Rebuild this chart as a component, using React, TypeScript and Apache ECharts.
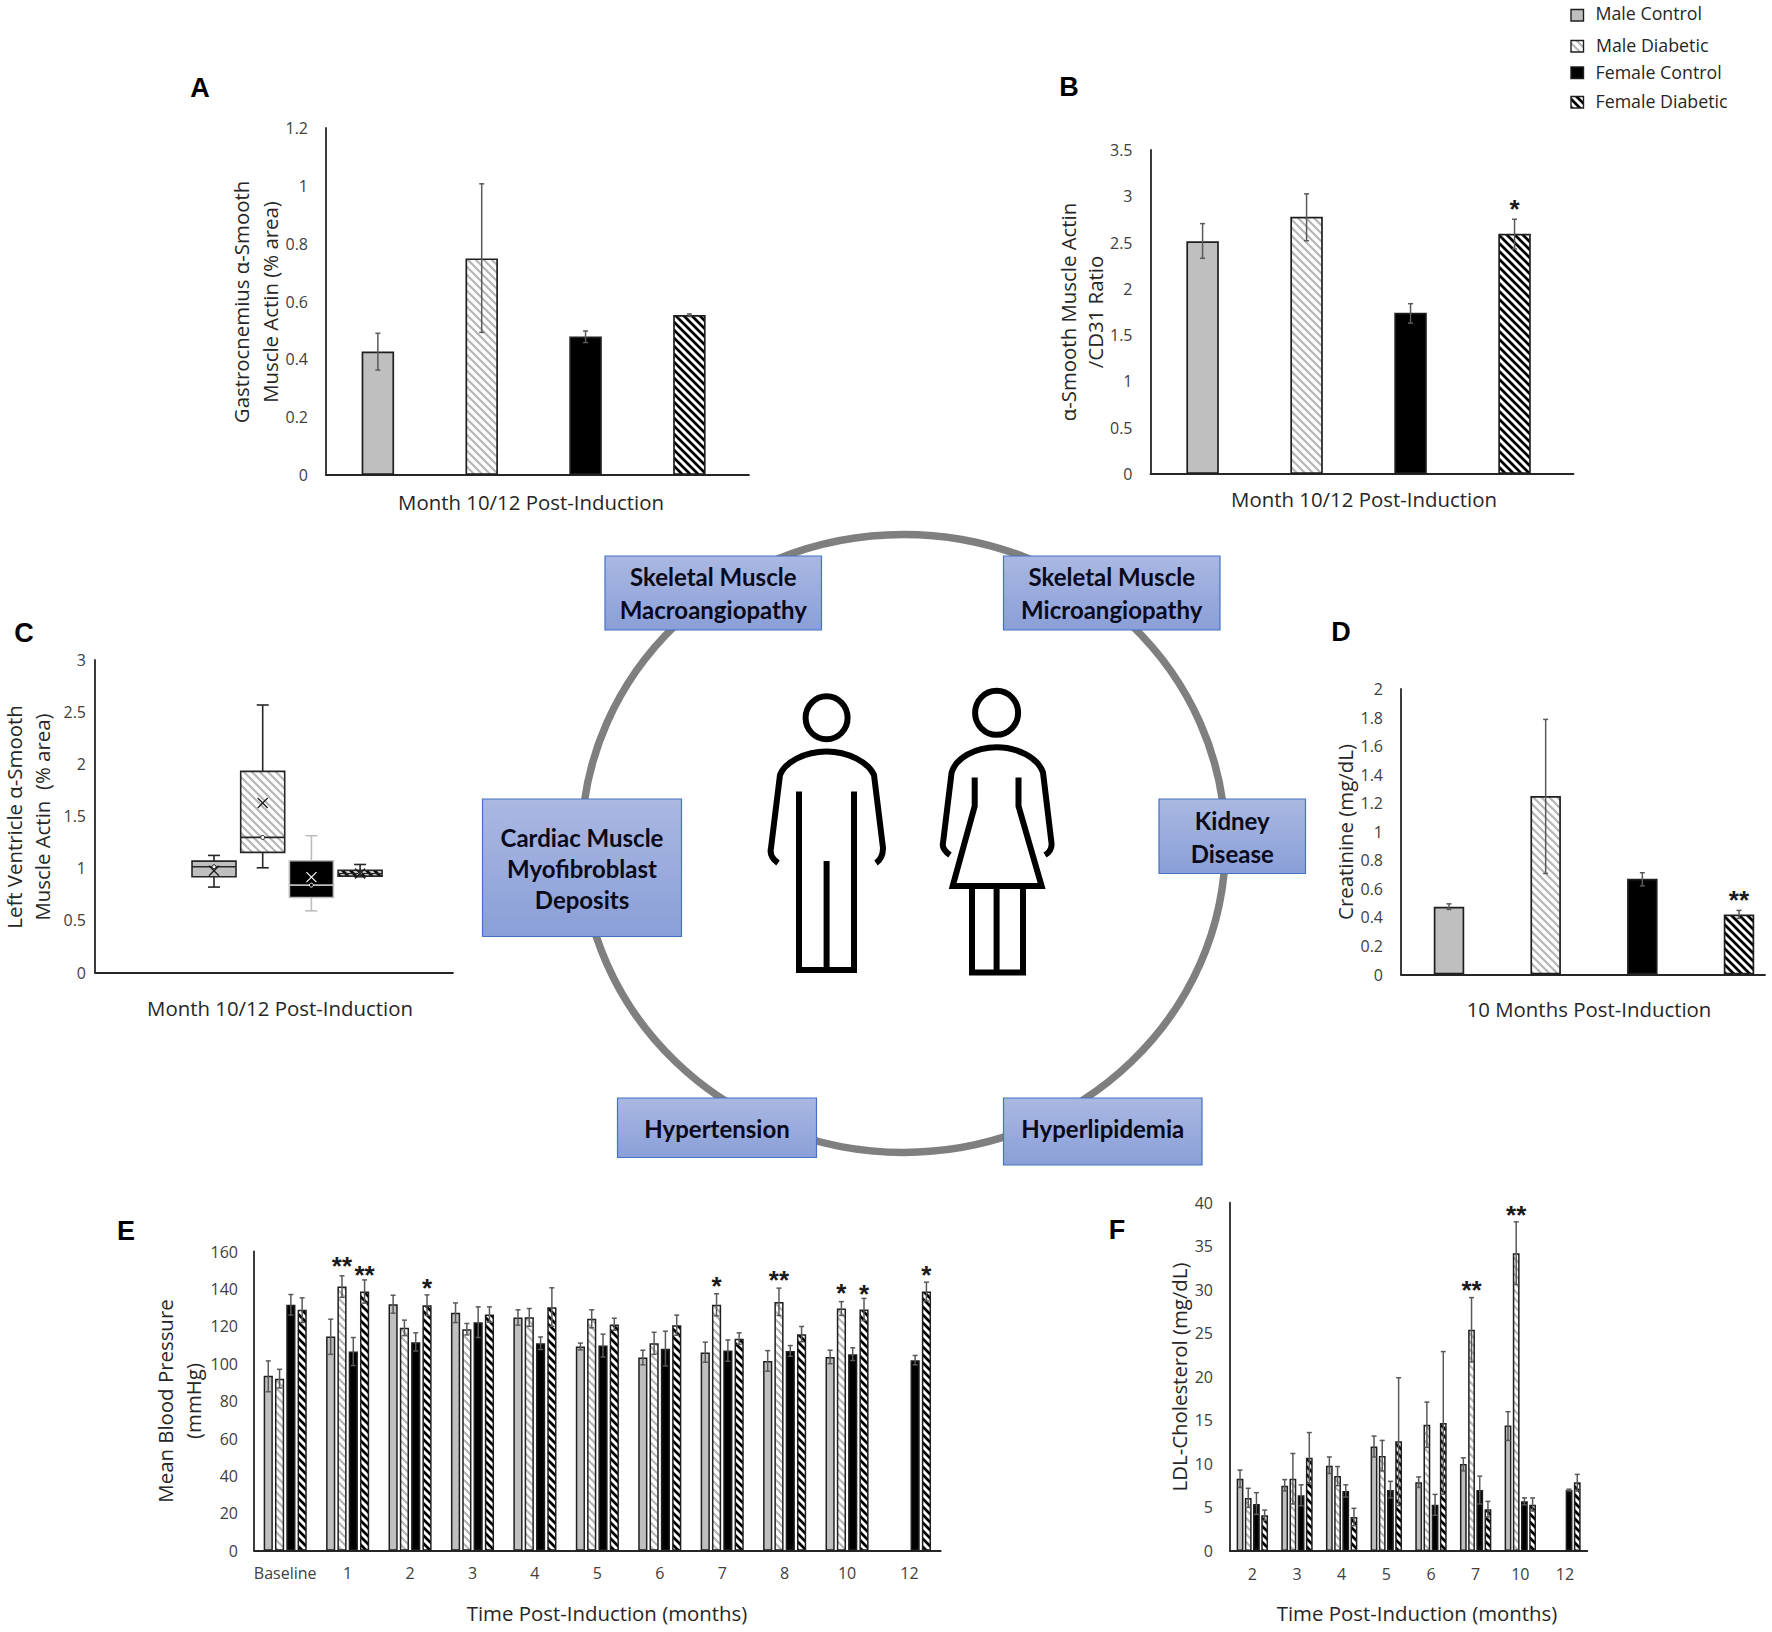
import React, { useEffect, useRef } from "react";
import * as echarts from "echarts";

const groups = ["Male Control", "Male Diabetic", "Female Control", "Female Diabetic"];

// Panel A
const aMeans = [0.427, 0.749, 0.479, 0.553];
const aLow = [0.363, 0.493, 0.458, 0.548];
const aHigh = [0.49, 1.007, 0.498, 0.557];
// Panel B
const bMeans = [2.515, 2.778, 1.743, 2.596];
const bLow = [2.33, 2.52, 1.63, 2.43];
const bHigh = [2.705, 3.026, 1.84, 2.752];
// Panel C: min, q1, median, q3, max, mean
const cMin = [0.82, 1.005, 0.592, 0.919];
const cQ1 = [0.919, 1.153, 0.72, 0.925];
const cMedian = [1.015, 1.297, 0.839, 0.95];
const cQ3 = [1.069, 1.931, 1.073, 0.98];
const cMax = [1.124, 2.568, 1.313, 1.037];
const cMean = [0.977, 1.627, 0.916, 0.95];
// Panel D
const dMeans = [0.474, 1.25, 0.67, 0.42];
const dLow = [0.456, 0.708, 0.621, 0.393];
const dHigh = [0.495, 1.787, 0.713, 0.449];
// Panel E
const eMonths = ["Baseline", "1", "2", "3", "4", "5", "6", "7", "8", "10", "12"];
const eMC = [93.5, 114.5, 131.8, 127.2, 124.7, 109.2, 103.3, 106, 101.5, 103.6, null];
const eMCLow = [85, 105, 127, 122, 120.6, 107.4, 99.4, 100.8, 96, 100, null];
const eMCHigh = [101.5, 123.8, 136.6, 132.5, 128.8, 111, 107.2, 111.5, 107, 107.2, null];
const eMD = [92, 141.3, 119.2, 118.4, 124.9, 124, 111, 131.5, 133, 129.5, null];
const eMDLow = [87, 135.5, 115, 115.4, 120, 119.2, 105, 125.6, 125.8, 125.8, null];
const eMDHigh = [97, 147, 123.3, 121.5, 129.5, 128.8, 116.8, 137.4, 140.4, 133.2, null];
const eFC = [131.5, 106.5, 111.5, 122.2, 111, 109.7, 108, 107, 106.8, 105, 101.9];
const eFCLow = [126, 99, 106.8, 114, 107.6, 103.6, 98.8, 101.3, 104, 101.7, 99.4];
const eFCHigh = [137, 114, 116.5, 130.4, 114.3, 115.8, 117.4, 112.7, 109.7, 108.5, 104.4];
const eFD = [128.8, 138.6, 131.3, 126.3, 130.2, 121, 120.6, 113.4, 115.8, 129, 138.6];
const eFDLow = [122, 132.4, 125.8, 122.2, 120, 117.9, 115.2, 110.4, 111.7, 123, 133.6];
const eFDHigh = [135.2, 144.8, 136.8, 130.4, 140.6, 124.3, 126, 116.5, 119.9, 134.9, 143.6];
// Panel F
const fMonths = ["2", "3", "4", "5", "6", "7", "10", "12"];
const fMC = [8.3, 7.5, 9.8, 12, 7.9, 10, 14.4, null];
const fMCLow = [7.3, 6.9, 8.9, 10.8, 7.3, 9.2, 12.7, null];
const fMCHigh = [9.3, 8.2, 10.8, 13.2, 8.5, 10.7, 16, null];
const fMD = [6.1, 8.3, 8.6, 10.9, 14.5, 25.4, 34.2, null];
const fMDLow = [5, 5.4, 7.5, 9.2, 11.9, 21.7, 30.6, null];
const fMDHigh = [7.2, 11.2, 9.7, 12.7, 17.1, 29.1, 37.8, null];
const fFC = [5.4, 6.4, 6.9, 7, 5.3, 7, 5.7, 7];
const fFCLow = [4.2, 5.2, 6.2, 6.1, 4.1, 5.4, 5.3, 6.9];
const fFCHigh = [6.7, 7.6, 7.6, 8, 6.5, 8.6, 6.1, 7.1];
const fFD = [4.1, 10.7, 3.9, 12.6, 14.7, 4.8, 5.3, 7.9];
const fFDLow = [3.5, 7.8, 2.9, 5.2, 6.5, 3.9, 4.6, 6.9];
const fFDHigh = [4.7, 13.6, 4.9, 19.9, 22.9, 5.7, 6.1, 8.8];

// Significance marks: [category index, value height, group index, number of asterisks]
const bStars = [[3, 2.91, 3, 1]];
const dStars = [[3, 0.551, 3, 2]];
const eStars = [
  [1, 154.6, 1, 2], [1, 149.8, 3, 2], [2, 142.7, 3, 1], [7, 143.9, 1, 1],
  [8, 147.1, 1, 2], [9, 140, 1, 1], [9, 139.5, 3, 1], [10, 149.8, 3, 1],
];
const fStars = [[5, 30.4, 1, 2], [6, 39, 1, 2]];

const hatchTile = (color: string, w: number) => {
  const svg = `<svg xmlns="http://www.w3.org/2000/svg" width="8" height="8"><rect width="8" height="8" fill="#fff"/><path d="M-2,-2L10,10M-2,6L2,10M6,-2L10,2" stroke="${color}" stroke-width="${w}" fill="none"/></svg>`;
  return {
    image: "data:image/svg+xml," + encodeURIComponent(svg),
    repeat: "repeat",
    imageWidth: 8,
    imageHeight: 8,
  };
};
const hatchGray = hatchTile("#b5b5b5", 2.2);
const hatchBlack = hatchTile("#000000", 2.7);

const BORDER = "#1f1f1f";
const groupFills: any[] = ["#bfbfbf", hatchGray, "#000000", hatchBlack];
const AXIS = "#262626";
const LABEL_FONT = "Open Sans";
const TICK = "#404040";
const ERR = "#595959";

echarts.graphic.registerShape(
  "manBody",
  echarts.graphic.extendPath(
    "M778,863C771,858 770,852 771,848L780,775C785,762 805,751.5 826.6,751.5C848,751.5 868,762 874,775L883,848C883,853 882,859 876,863M799,791.5L799,970L854,970L854,791.5M826.6,861L826.6,970",
    {}
  )
);
echarts.graphic.registerShape(
  "womanBody",
  echarts.graphic.extendPath(
    "M950,855C944,851 942,847 943,843L951.6,772.5C956,758 975,747.3 996.6,747.3C1018,747.3 1038,758 1043,772.5L1051.5,843C1052,848 1050,852 1045,855M974.7,777.6L974.7,806L952.7,886L1041.6,886L1018.5,806L1018.5,777.6M972,886L972,972.4L1023,972.4L1023,886M996.6,886L996.6,972.4",
    {}
  )
);

function errorSeries(gridIndex: number, rows: number[][], step: number, cap: number) {
  return {
    type: "custom",
    xAxisIndex: gridIndex,
    yAxisIndex: gridIndex,
    z: 5,
    silent: true,
    encode: { x: 0, y: [1, 2] },
    data: rows,
    renderItem: (_p: any, api: any) => {
      const cat = api.value(0);
      const off = step * (api.value(3) - 1.5);
      const lo = api.coord([cat, api.value(1)]);
      const hi = api.coord([cat, api.value(2)]);
      const x = lo[0] + off;
      const style = { stroke: ERR, lineWidth: 1.5, fill: "none" };
      const seg = (x1: number, y1: number, x2: number, y2: number) => ({
        type: "line",
        shape: { x1, y1, x2, y2 },
        style,
      });
      return {
        type: "group",
        children: [
          seg(x, lo[1], x, hi[1]),
          seg(x - cap, lo[1], x + cap, lo[1]),
          seg(x - cap, hi[1], x + cap, hi[1]),
        ],
      };
    },
  };
}

function starSeries(gridIndex: number, rows: number[][], step: number) {
  return {
    type: "custom",
    xAxisIndex: gridIndex,
    yAxisIndex: gridIndex,
    z: 6,
    silent: true,
    encode: { x: 0, y: 1 },
    data: rows,
    renderItem: (_p: any, api: any) => {
      const p = api.coord([api.value(0), api.value(1)]);
      return {
        type: "text",
        x: p[0] + step * (api.value(2) - 1.5),
        y: p[1] + 4,
        style: {
          text: "*".repeat(api.value(3)),
          fill: "#1a1a1a",
          font: 'bold 26px "Liberation Sans"',
          align: "center",
          verticalAlign: "middle",
        },
      };
    },
  };
}

const rowsSingle = (low: number[], high: number[]) =>
  low.map((l, i) => [i, l, high[i], 1.5]);
const rowsGroup = (gi: number, low: (number | null)[], high: (number | null)[]) =>
  low
    .map((l, i) => (l == null ? null : [i, l, high[i] as number, gi]))
    .filter(Boolean) as number[][];

const option: any = {
  animation: false,
  backgroundColor: "#ffffff",
  grid: [] as any[],
  xAxis: [] as any[],
  yAxis: [] as any[],
  series: [] as any[],
  graphic: [] as any[],
};

function addGrid(
  left: number, top: number, right: number, bottom: number,
  yMax: number, yInterval: number, xAxisDef: any, labelMargin: number
) {
  option.grid.push({ left, top, width: right - left, height: bottom - top, containLabel: false });
  option.xAxis.push({
    gridIndex: option.grid.length - 1,
    axisLine: { show: true, onZero: false, lineStyle: { color: AXIS, width: 1.8 } },
    axisTick: { show: false },
    splitLine: { show: false },
    ...xAxisDef,
  });
  option.yAxis.push({
    gridIndex: option.grid.length - 1,
    type: "value",
    min: 0,
    max: yMax,
    interval: yInterval,
    axisLine: { show: true, onZero: false, lineStyle: { color: AXIS, width: 1.8 } },
    axisTick: { show: false },
    splitLine: { show: false },
    axisLabel: {
      color: TICK,
      fontFamily: LABEL_FONT,
      fontSize: 16,
      margin: labelMargin,
      padding: [0, 0, 2, 0],
    },
  });
  return option.grid.length - 1;
}

const hiddenX = (min: number, max: number) => ({
  type: "value",
  min,
  max,
  axisLabel: { show: false },
});

function singleBars(gi: number, means: number[], barWidth: number) {
  option.series.push({
    type: "bar",
    name: "Mean",
    xAxisIndex: gi,
    yAxisIndex: gi,
    barWidth,
    data: means.map((v, i) => ({
      value: [i, v],
      name: groups[i],
      itemStyle: { color: groupFills[i], borderColor: BORDER, borderWidth: 1.7 },
    })),
  });
}

// A
const gA = addGrid(326, 128, 749, 475, 1.2, 0.2, hiddenX(-0.4995, 3.574), 18);
singleBars(gA, aMeans, 32.5);
option.series.push(errorSeries(gA, rowsSingle(aLow, aHigh), 0, 2.5));
// B
const gB = addGrid(1150.5, 150, 1573.5, 474, 3.5, 0.5, hiddenX(-0.501, 3.567), 18);
singleBars(gB, bMeans, 32.5);
option.series.push(errorSeries(gB, rowsSingle(bLow, bHigh), 0, 2.5));
option.series.push(starSeries(gB, bStars, 0));
// D
const gD = addGrid(1401, 689, 1765, 974.5, 2, 0.2, hiddenX(-0.4966, 3.269), 18);
singleBars(gD, dMeans, 30.5);
option.series.push(errorSeries(gD, rowsSingle(dLow, dHigh), 0, 2.5));
option.series.push(starSeries(gD, dStars, 0));
// C
const gC = addGrid(95, 660, 453, 972.5, 3, 0.5, hiddenX(-2.444, 4.908), 9);
option.series.push({
  type: "custom",
  name: "Box",
  xAxisIndex: gC,
  yAxisIndex: gC,
  silent: true,
  encode: { x: 0, y: [1, 2, 3, 4, 5, 6] },
  data: groups.map((_, i) => [i, cMin[i], cQ1[i], cMedian[i], cQ3[i], cMax[i], cMean[i]]),
  renderItem: (p: any, api: any) => {
    const i = p.dataIndex;
    const dark = i === 2;
    const stroke = dark ? "#bdbdbd" : "#262626";
    const c = (d: number) => api.coord([api.value(0), api.value(d)]);
    const [x, yMin] = c(1);
    const yQ1 = c(2)[1];
    const yMed = c(3)[1];
    const yQ3 = c(4)[1];
    const yMax = c(5)[1];
    const yMean = c(6)[1];
    const half = 22;
    const cap = 6;
    const lineStyle = { stroke, lineWidth: 1.6, fill: "none" };
    const seg = (x1: number, y1: number, x2: number, y2: number, style: any = lineStyle) => ({
      type: "line",
      shape: { x1, y1, x2, y2 },
      style,
    });
    const mark = dark ? "#ffffff" : "#1a1a1a";
    const markStyle = { stroke: mark, lineWidth: 1.2, fill: "none" };
    return {
      type: "group",
      children: [
        seg(x, yQ3, x, yMax),
        seg(x, yQ1, x, yMin),
        seg(x - cap, yMax, x + cap, yMax),
        seg(x - cap, yMin, x + cap, yMin),
        {
          type: "rect",
          shape: { x: x - half, y: yQ3, width: half * 2, height: yQ1 - yQ3 },
          style: { fill: groupFills[i], stroke, lineWidth: 1.6 },
        },
        seg(x - half, yMed, x + half, yMed),
        {
          type: "circle",
          shape: { cx: x, cy: yMed, r: 2 },
          style: { fill: dark ? "#000" : "#fff", stroke: mark, lineWidth: 1 },
        },
        seg(x - 5, yMean - 5, x + 5, yMean + 5, markStyle),
        seg(x - 5, yMean + 5, x + 5, yMean - 5, markStyle),
      ],
    };
  },
});

function groupedPanel(
  gi: number, bw: number, step: number,
  series: (number | null)[][], lows: (number | null)[][], highs: (number | null)[][],
  stars: number[][]
) {
  series.forEach((vals, k) => {
    option.series.push({
      type: "bar",
      name: groups[k],
      xAxisIndex: gi,
      yAxisIndex: gi,
      barWidth: bw,
      barGap: ((step - bw) / bw) * 100 + "%",
      itemStyle: { color: groupFills[k], borderColor: BORDER, borderWidth: 1.5 },
      data: vals,
    });
  });
  series.forEach((_, k) => {
    option.series.push(errorSeries(gi, rowsGroup(k, lows[k], highs[k]), step, 2.5));
  });
  option.series.push(starSeries(gi, stars, step));
}

const catAxis = (data: string[], margin: number) => ({
  type: "category",
  data,
  axisLabel: { color: TICK, fontFamily: LABEL_FONT, fontSize: 16, margin, interval: 0 },
});

// E
const gE = addGrid(254, 1251.5, 940.7, 1550.7, 160, 20, catAxis(eMonths, 14), 16);
groupedPanel(gE, 9.2, 11.3, [eMC, eMD, eFC, eFD], [eMCLow, eMDLow, eFCLow, eFDLow], [eMCHigh, eMDHigh, eFCHigh, eFDHigh], eStars);
// F
const gF = addGrid(1230, 1202.7, 1587.3, 1551, 40, 5, catAxis(fMonths, 15), 17);
groupedPanel(gF, 6.8, 8.2, [fMC, fMD, fFC, fFD], [fMCLow, fMDLow, fFCLow, fFDLow], [fMCHigh, fMDHigh, fFCHigh, fFDHigh], fStars);

// --- Texts and the central diagram ---
const g: any[] = option.graphic;
const TITLE = "#262626";
const title = (text: string, x: number, y: number, rotate = false, fontSize = 20.4) =>
  g.push({
    type: "text",
    x,
    y,
    rotation: rotate ? Math.PI / 2 : 0,
    style: {
      text,
      fill: TITLE,
      font: `${fontSize}px "${LABEL_FONT}"`,
      align: "center",
      verticalAlign: "middle",
    },
  });
const panelLabel = (text: string, x: number, y: number) =>
  g.push({
    type: "text",
    x,
    y,
    style: {
      text,
      fill: "#000",
      font: 'bold 27px "Liberation Sans"',
      align: "center",
      verticalAlign: "middle",
    },
  });

panelLabel("A", 200, 88);
panelLabel("B", 1069, 87);
panelLabel("C", 24, 633);
panelLabel("D", 1341, 632);
panelLabel("E", 126, 1231);
panelLabel("F", 1117, 1230);

title("Gastrocnemius α-Smooth", 241, 302, true);
title("Muscle Actin (% area)", 270, 302, true);
title("Month 10/12 Post-Induction", 531, 502);
title("α-Smooth Muscle Actin", 1068, 312, true);
title("/CD31 Ratio", 1095, 312, true);
title("Month 10/12 Post-Induction", 1364, 499);
title("Left Ventricle α-Smooth", 14, 817, true);
title("Muscle Actin  (% area)", 42, 817, true);
title("Month 10/12 Post-Induction", 280, 1008);
title("Creatinine (mg/dL)", 1345, 832, true);
title("10 Months Post-Induction", 1589, 1009);
title("Mean Blood Pressure", 165, 1401, true);
title("(mmHg)", 193, 1401, true);
title("Time Post-Induction (months)", 607, 1613);
title("LDL-Cholesterol (mg/dL)", 1179, 1377, true);
title("Time Post-Induction (months)", 1417, 1613);

// Legend
const legendRows = [
  { y: 9.5, h: 11.5, ty: 13, tx: 1595.5 },
  { y: 40.5, h: 11.5, ty: 45, tx: 1596 },
  { y: 67, h: 11.5, ty: 72, tx: 1595.5 },
  { y: 96.5, h: 11.5, ty: 101, tx: 1595.5 },
];
legendRows.forEach((r, i) => {
  g.push({
    type: "rect",
    shape: { x: 1571, y: r.y, width: 12.5, height: r.h },
    style: { fill: groupFills[i], stroke: BORDER, lineWidth: 1.4 },
  });
  g.push({
    type: "text",
    x: r.tx,
    y: r.ty,
    style: {
      text: groups[i],
      fill: TITLE,
      font: `17.8px "${LABEL_FONT}"`,
      align: "left",
      verticalAlign: "middle",
    },
  });
});

// Ring
g.push({
  type: "ellipse",
  shape: { cx: 903.5, cy: 843.4, rx: 322, ry: 309 },
  style: { fill: "transparent", stroke: "#7f7f7f", lineWidth: 7.5 },
});

// Boxes
const boxes = [
  { x: 605, y: 556, x2: 821.5, y2: 630, lines: ["Skeletal Muscle", "Macroangiopathy"], cy: 593, lh: 33 },
  { x: 1003.5, y: 556, x2: 1220, y2: 630, lines: ["Skeletal Muscle", "Microangiopathy"], cy: 593, lh: 33 },
  { x: 482.5, y: 799, x2: 681.5, y2: 936.5, lines: ["Cardiac Muscle", "Myofibroblast", "Deposits"], cy: 868, lh: 31 },
  { x: 1159, y: 799, x2: 1305.5, y2: 873.5, lines: ["Kidney", "Disease"], cy: 837, lh: 33 },
  { x: 617.5, y: 1098, x2: 816.5, y2: 1157.5, lines: ["Hypertension"], cy: 1128, lh: 33 },
  { x: 1003.5, y: 1098, x2: 1202, y2: 1165, lines: ["Hyperlipidemia"], cy: 1128, lh: 33 },
];
boxes.forEach((b) => {
  g.push({
    type: "rect",
    shape: { x: b.x, y: b.y, width: b.x2 - b.x, height: b.y2 - b.y },
    style: {
      fill: new echarts.graphic.LinearGradient(0, 0, 0, 1, [
        { offset: 0, color: "#aab8e2" },
        { offset: 1, color: "#8a9fd8" },
      ]),
      stroke: "#4472c4",
      lineWidth: 1.2,
    },
  });
  g.push({
    type: "text",
    x: (b.x + b.x2) / 2,
    y: b.cy,
    style: {
      text: b.lines.join("\n"),
      fill: "#0a0a1a",
      font: 'bold 24px "Lato"',
      lineHeight: b.lh,
      align: "center",
      verticalAlign: "middle",
    },
  });
});

// People
const figureStyle = { fill: "none", stroke: "#000", lineWidth: 6 };
g.push({ type: "ellipse", shape: { cx: 826.6, cy: 717.8, rx: 21, ry: 21.5 }, style: figureStyle });
g.push({ type: "ellipse", shape: { cx: 996.6, cy: 712.8, rx: 21.5, ry: 22 }, style: figureStyle });
g.push({ type: "manBody", x: 0, y: 0, style: figureStyle });
g.push({ type: "womanBody", x: 0, y: 0, style: figureStyle });

export default function App() {
  const ref = useRef<HTMLDivElement>(null);
  useEffect(() => {
    const chart = echarts.init(ref.current as HTMLDivElement, undefined, { renderer: "svg" });
    chart.setOption(option);
    return () => chart.dispose();
  }, []);
  return (
    <div
      ref={ref}
      style={{ position: "absolute", left: 0, top: 0, width: 1772, height: 1632, background: "#fff" }}
    />
  );
}
